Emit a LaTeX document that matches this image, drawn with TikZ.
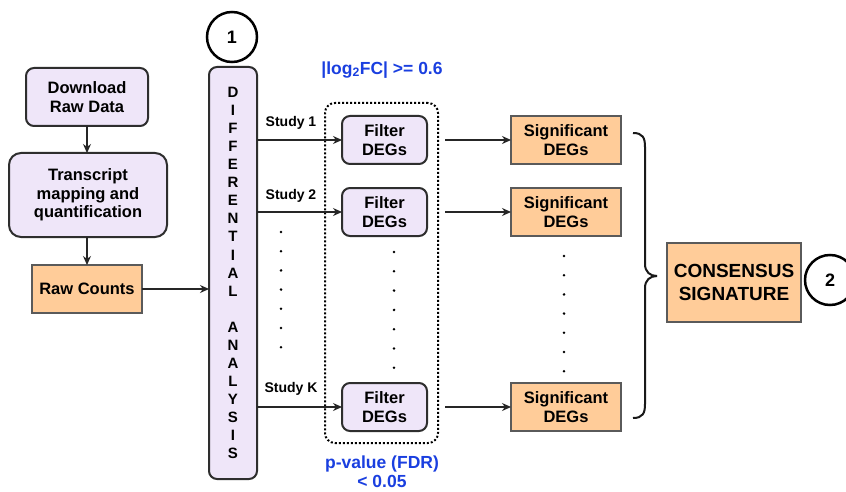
\documentclass[tikz,border=0pt]{standalone}
\usepackage{fontspec}
\setmainfont{Liberation Sans}
\usetikzlibrary{arrows.meta}
\definecolor{lav}{HTML}{EFE6F9}
\definecolor{org}{HTML}{FFCC99}
\definecolor{blu}{HTML}{1A3FE0}
\definecolor{dk}{HTML}{2E2E2E}
\definecolor{gr}{HTML}{5A5A5A}
\begin{document}
\begin{tikzpicture}[x=1pt,y=-1pt,
  every node/.style={inner sep=0pt,outer sep=0pt},
  lavbox/.style={draw=dk,line width=2pt,fill=lav,rounded corners=8pt,align=center,
    font=\fontsize{16.5}{18.5}\selectfont\bfseries},
  orbox/.style={draw=gr,line width=2pt,fill=org,align=center,
    font=\fontsize{16.5}{18.5}\selectfont\bfseries},
  arr/.style={line width=1.3pt,draw=black!85,-{Stealth[length=9pt,width=8pt]}},
  lbl/.style={font=\fontsize{14}{15}\selectfont\bfseries},
  bluetxt/.style={text=blu,align=center,font=\fontsize{17.5}{19}\selectfont\bfseries},
  numc/.style={circle,draw=black,line width=2.5pt,minimum size=50pt,
    font=\fontsize{18}{20}\selectfont\bfseries},
  dot/.style={circle,fill=black,minimum size=2.8pt}
]
\clip (0,0) rectangle (846,492);
\fill[white] (0,0) rectangle (846,492);

% left column
\node[lavbox,minimum width=122pt,minimum height=58pt] (dl) at (87,97) {Download\\Raw Data};
\node[lavbox,rounded corners=12pt,minimum width=158pt,minimum height=84pt] (tr) at (88,195) {Transcript\\mapping and\\quantification};
\node[orbox,minimum width=110pt,minimum height=48pt] (rc) at (87,289) {Raw Counts};

% differential analysis
\node[lavbox,minimum width=48pt,minimum height=412pt,font=\fontsize{15}{18.05}\selectfont\bfseries] (da) at (233,273)
  {D\\I\\F\\F\\E\\R\\E\\N\\T\\I\\A\\L\\\mbox{}\\A\\N\\A\\L\\Y\\S\\I\\S};
\node[numc] (c1) at (232,37) {1};

\draw[arr] (dl.south) -- (dl.south |- tr.north);
\draw[arr] (dl.south |- tr.south) -- (dl.south |- rc.north);
\draw[arr] (rc.east) -- (da.west |- rc.east);

% group of filters
\node[draw=black,line width=2pt,dotted,rounded corners=10pt,minimum width=113pt,minimum height=340pt] (grp) at (381.5,273) {};
\node[lavbox,minimum width=85pt,minimum height=48pt] (f1) at (384.5,140) {Filter\\DEGs};
\node[lavbox,minimum width=85pt,minimum height=48pt] (f2) at (384.5,212) {Filter\\DEGs};
\node[lavbox,minimum width=85pt,minimum height=48pt] (fk) at (384.5,407) {Filter\\DEGs};

\node[bluetxt] (lfc) at (382,70) {|log\textsubscript{2}FC| >= 0.6};
\node[bluetxt] (pv) at (382,472) {p-value (FDR)\\< 0.05};

\draw[arr] (da.east |- f1.west) -- (f1.west);
\draw[arr] (da.east |- f2.west) -- (f2.west);
\draw[arr] (da.east |- fk.west) -- (fk.west);
\node[lbl] (st1) at (291,123) {Study 1};
\node[lbl] (st2) at (291,196) {Study 2};
\node[lbl] (stk) at (291,389) {Study K};

% dots
\foreach \i in {0,...,6} {
  \node[dot] (sd\i) at (281,232+19.2*\i) {};
  \node[dot] (fd\i) at (394,252+19.3*\i) {};
  \node[dot] (gd\i) at (564,256+19.2*\i) {};
}

% significant
\node[orbox,minimum width=110pt,minimum height=48pt] (s1) at (566,140) {Significant\\DEGs};
\node[orbox,minimum width=110pt,minimum height=48pt] (s2) at (566,212) {Significant\\DEGs};
\node[orbox,minimum width=110pt,minimum height=48pt] (sk) at (566,407) {Significant\\DEGs};

\coordinate (o1) at ([xshift=7pt]grp.east |- f1.east);
\coordinate (o2) at ([xshift=7pt]grp.east |- f2.east);
\coordinate (ok) at ([xshift=7pt]grp.east |- fk.east);
\draw[arr] (o1) -- (s1.west);
\draw[arr] (o2) -- (s2.west);
\draw[arr] (ok) -- (sk.west);

% brace
\coordinate (bt) at (633,133);
\coordinate (bb) at (633,418);
\coordinate (bm) at (657,276);
\draw[line width=2pt,draw=black!90] (bt) .. controls (643,133) and (645,138) .. (645,147) -- (645,264) .. controls (645,272) and (650,276) .. (bm);
\draw[line width=2pt,draw=black!90] (bb) .. controls (643,418) and (645,413) .. (645,404) -- (645,288) .. controls (645,280) and (650,276) .. (bm);

\node[orbox,minimum width=134pt,minimum height=79pt,font=\fontsize{19}{23}\selectfont\bfseries] (cons) at (734,282.5) {CONSENSUS\\SIGNATURE};
\node[numc] (c2) at (830,280) {2};
\end{tikzpicture}
\end{document}
